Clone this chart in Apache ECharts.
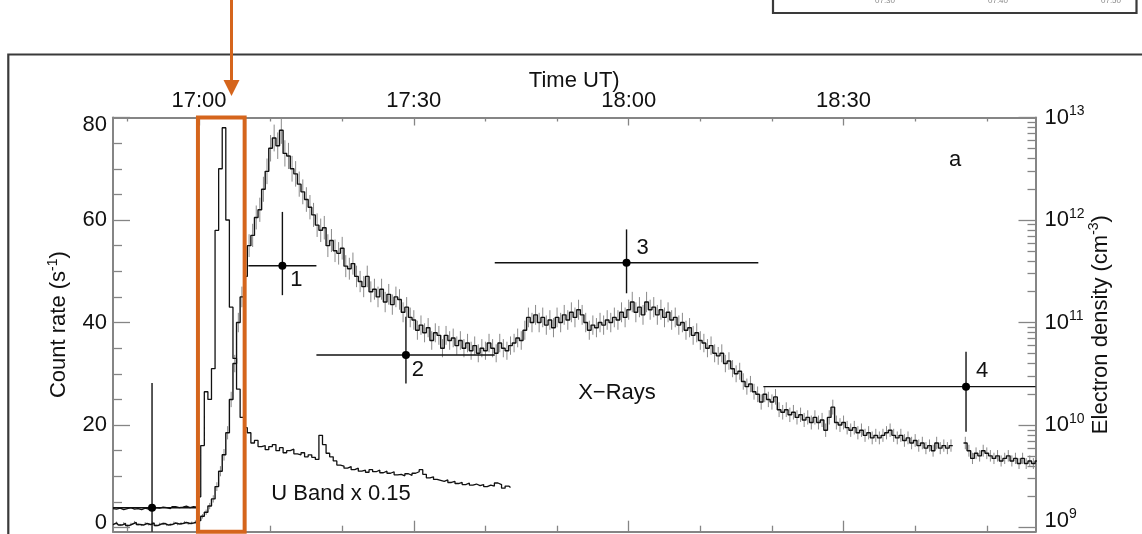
<!DOCTYPE html>
<html>
<head>
<meta charset="utf-8">
<script src="https://cdn.jsdelivr.net/npm/echarts@6/dist/echarts.min.js"></script>
<style>
  html, body { margin: 0; padding: 0; background: #fff; }
  #chart { width: 1142px; height: 534px; }
</style>
</head>
<body>
<div id="chart"></div>
<script>
// Flare light curves: X-ray count rate and U band (scaled by 0.15),
// plus electron densities on the right-hand log axis.
// Time is expressed in minutes after 17:00 UT.

// ---- axis ticks ----
const timeTicksMajor = [0, 30, 60, 90];
const timeTicksMinor = [-10, 10, 20, 40, 50, 70, 80, 100, 110];
const countTicksMajor = [0, 20, 40, 60, 80];
const countTicksMinor = [5, 10, 15, 25, 30, 35, 45, 50, 55, 65, 70, 75];
const densityTicksMajor = [1e9, 1e10, 1e11, 1e12, 1e13];
const densityTicksMinor = [
  2e9, 3e9, 4e9, 5e9, 6e9, 7e9, 8e9, 9e9,
  2e10, 3e10, 4e10, 5e10, 6e10, 7e10, 8e10, 9e10,
  2e11, 3e11, 4e11, 5e11, 6e11, 7e11, 8e11, 9e11,
  2e12, 3e12, 4e12, 5e12, 6e12, 7e12, 8e12, 9e12
];

// ---- X-ray count rate (s^-1), 30 s bins starting at 16:48 ----
const xrayStart = -12;
const sampleStep = 0.5;
const xrayRate = [
  0.6, 0.9, 0.5, 0.8, 0.4, 0.7, 1.0, 0.6, 0.5, 0.8, 0.6, 0.9, 0.4, 0.7, 0.8, 0.5, 0.6, 0.9, 0.7, 0.8, 1.0, 0.8, 0.9, 1.1,
  1.4, 2.2, 3.0, 4.2, 5.6, 8.0, 11.0, 14.2, 18.5, 25.0, 32.0, 40.0, 45.0, 49.0, 55.0, 57.0, 60.5, 62.0, 66.0, 69.5,
  74.0, 76.0, 74.5, 77.5, 73.0, 72.5, 70.0, 69.0, 67.0,
  65.5, 64, 62.5, 61, 59, 58, 58.5, 55, 56, 54, 53.5, 54.5, 51, 50.5, 51.5, 49, 48, 47, 49, 46, 46.5, 45, 46.5, 44,
  45.5, 43.5, 45, 44.5, 42, 43, 41, 40.5,
  38.5, 39.5, 38, 39, 36.5, 38, 37.5, 35, 37.5, 36.5, 37, 35.5, 36.5, 35, 36, 34.5, 35.5, 34, 35, 34.5, 36, 35, 34,
  36, 35, 34.5, 35.5, 36, 37, 36.5, 38.5, 41, 40, 41.5,
  40, 41, 39.5, 40.5, 39, 41, 40, 41.5, 40.5, 42, 41, 42.5, 41.5, 40, 38.5, 39.5, 39, 40, 39.5, 40.5, 40, 41, 40.5,
  42, 41, 42.5, 44, 42, 43, 41.5, 44, 42.5, 43, 41.5, 42.5, 41, 42, 40.5, 41, 39.5, 40, 38.5, 39, 37.5, 38, 36.5,
  36, 35, 35.5, 34, 33.5, 34, 32, 32.5, 31, 30, 30.5, 28.5, 27.5, 28, 26.5, 26, 24.5, 26, 25, 24.5, 25.5, 23, 22.5,
  23, 22, 22.5, 21.5, 22, 21, 21.5, 20.5, 21.5, 20.5, 21, 19, 21.5, 23.5, 20.5, 20, 20.5, 19.5, 19, 19.5, 18.5, 19,
  18, 18.5, 17.5, 18, 17.5, 18, 18.5, 19, 18, 17.5, 18, 17, 17.5, 16.5, 17, 16, 16.5, 15.5, 16, 15, 16.5, 15.5, 16,
  15.5, 16,
  null, null, null,
  16.5, 15, 13.5, 14.5, 14, 15, 14.5, 14, 13.5, 14, 13, 13.5, 14, 13, 13.5, 12.5, 13.5, 12.5, 13, 12.5, 13
];

// ---- U band count rate x 0.15, same binning ----
const uBandStart = -12;
const uBandRate = [
  3.7, 3.6, 3.8, 3.5, 3.7, 3.9, 3.6, 3.7, 3.5, 3.8, 3.6, 3.7, 3.9, 3.8, 4.0, 3.9, 3.7, 4.1, 3.9, 4.0, 4.2, 3.9, 4.1, 4.0,
  6.0, 16.0, 26.5, 25.0, 31.0, 58.0, 70.0, 78.0, 60.0, 43.0, 33.0, 27.0, 21.5, 19.5, 18.5,
  16.5, 17, 15.8, 16, 15.2, 15.8, 16.2, 15, 15.6, 14.6, 15, 15.3, 14.4, 14.2, 14.6, 13.8, 14.2, 13.7, 13.3, 18,
  16.2, 14.5, 13.8, 13, 12.2, 12, 11.6, 11.9, 11.3, 11.6, 11, 11.2, 10.8, 11.3, 10.9, 11.2, 10.7, 11, 10.6, 10.9,
  10.3, 10.4, 10.1, 10.5, 10.2, 10.6, 10.9, 11.3, 10.4, 9.7, 9.9, 9.4, 9.2, 9.0, 9.3, 8.8, 9.0, 8.6, 8.8, 8.4,
  8.7, 8.3, 8.5, 8.2, 8.4, 8.0, 8.3, 8.1, 8.7, 8.4, 7.7, 8.1, 7.8
];

// ---- electron density estimates (cm^-3) with time and density ranges ----
const densityTime     = [-6.55, 11.65, 28.9, 59.7, 107.1];
const densityTimeLow  = [-12.8, 6.9, 16.4, 41.3, 78.8];
const densityTimeHigh = [-0.3, 16.4, 41.3, 78.1, 135.2];
const density         = [1.56e9, 3.58e11, 4.82e10, 3.83e11, 2.37e10];
const densityLow      = [1e8, 1.85e11, 2.55e10, 1.93e11, 8.6e9];
const densityHigh     = [2.57e10, 1.2e12, 1.14e11, 8.1e11, 5.19e10];
const densityLabel    = ['', '1', '2', '3', '4'];

// highlighted impulsive phase (minutes after 17:00)
const flareWindow = [-0.14, 6.38];

// ---- layout / style ----
const FONT = "'Liberation Sans', Arial, Helvetica, sans-serif";
const TEXT = '#111';
const AXIS = '#858585';
const ORANGE = '#D5651C';
const X_MIN = -12, X_MAX = 116.8;
const COUNT_MIN = -0.8, COUNT_MAX = 80;
// 20 counts per decade: 0 counts <-> 1e9 cm^-3, 80 counts <-> 1e13 cm^-3
const DENSITY_MIN = Math.pow(10, 9 + COUNT_MIN / 20);
const DENSITY_MAX = 1e13;
const ERR_SCALE = 0.3; // counting-statistics error bar scale
const LABEL_OFFSET = { '1': [14, 14], '2': [12, 15], '3': [16, -15], '4': [16, -16] };

const xrayData = xrayRate.map((v, i) => [xrayStart + i * sampleStep, v]);
const uBandData = uBandRate.map((v, i) => [uBandStart + i * sampleStep, v]);
const densityData = density.map((n, i) => [
  densityTime[i], n, densityTimeLow[i], densityTimeHigh[i], densityLow[i], densityHigh[i]
]);

function clockLabel(v) {
  const total = 17 * 60 + v;
  const h = Math.floor(total / 60), m = total % 60;
  return h + ':' + String(m).padStart(2, '0');
}

function renderErrorBar(params, api) {
  const v = api.value(1);
  if (v == null || isNaN(v)) return null;
  const t = api.value(0);
  const e = ERR_SCALE * Math.sqrt(Math.max(v, 0));
  const p0 = api.coord([t, v - e]);
  const p1 = api.coord([t, v + e]);
  return {
    type: 'line',
    shape: { x1: p0[0], y1: p0[1], x2: p1[0], y2: p1[1] },
    style: { stroke: '#8a8a8a', lineWidth: 1 }
  };
}

function renderDensity(params, api) {
  const cs = params.coordSys;
  const rect = { x: cs.x, y: cs.y, width: cs.width, height: cs.height };
  const t = api.value(0), n = api.value(1);
  const t0 = api.value(2), t1 = api.value(3), n0 = api.value(4), n1 = api.value(5);
  const c = api.coord([t, n]);
  const h = echarts.graphic.clipPointsByRect([api.coord([t0, n]), api.coord([t1, n])], rect);
  const v = echarts.graphic.clipPointsByRect([api.coord([t, n0]), api.coord([t, n1])], rect);
  const children = [
    { type: 'line', shape: { x1: h[0][0], y1: h[0][1], x2: h[1][0], y2: h[1][1] },
      style: { stroke: '#111', lineWidth: 1.4 } },
    { type: 'line', shape: { x1: v[0][0], y1: v[0][1], x2: v[1][0], y2: v[1][1] },
      style: { stroke: '#111', lineWidth: 1.4 } },
    { type: 'circle', shape: { cx: c[0], cy: c[1], r: 4 }, style: { fill: '#000' } }
  ];
  const lbl = densityLabel[params.dataIndex];
  if (lbl) {
    const off = LABEL_OFFSET[lbl] || [14, 14];
    children.push({
      type: 'text', x: c[0] + off[0], y: c[1] + off[1],
      style: { text: lbl, fontSize: 22, fontFamily: FONT, fill: TEXT, align: 'center', verticalAlign: 'middle' }
    });
  }
  return { type: 'group', children };
}

const tickStyle = { color: AXIS, width: 1.3 };
const lineAxis = { onZero: false, lineStyle: { color: AXIS, width: 2 } };
const noAxisLine = { show: false, onZero: false };

const chart = echarts.init(document.getElementById('chart'), null, { renderer: 'canvas' });

const option = {
  animation: false,
  backgroundColor: '#fff',
  textStyle: { fontFamily: FONT },
  grid: [
    { left: 113, right: 106.5, top: 117.5, bottom: 2.3, containLabel: false, outerBoundsMode: 'none' },
    { left: 113, right: 106.5, top: 117.5, bottom: 2.3, containLabel: false, outerBoundsMode: 'none' }
  ],
  xAxis: [
    {
      gridIndex: 0, type: 'value', position: 'top', min: X_MIN, max: X_MAX,
      axisLine: lineAxis,
      axisTick: { inside: true, length: 8, customValues: timeTicksMajor, lineStyle: tickStyle },
      axisLabel: { customValues: timeTicksMajor, formatter: clockLabel, fontSize: 22, fontFamily: FONT, color: TEXT, margin: 6 },
      splitLine: { show: false },
      name: 'Time UT)', nameLocation: 'middle', nameGap: 26, nameMoveOverlap: false,
      nameTextStyle: { fontSize: 22, fontFamily: FONT, color: TEXT }
    },
    {
      gridIndex: 0, type: 'value', position: 'bottom', min: X_MIN, max: X_MAX,
      axisLine: lineAxis,
      axisTick: { inside: true, length: 11, customValues: timeTicksMajor, lineStyle: tickStyle },
      axisLabel: { show: false }, splitLine: { show: false }
    },
    {
      gridIndex: 1, type: 'value', position: 'top', min: X_MIN, max: X_MAX,
      axisLine: noAxisLine,
      axisTick: { inside: true, length: 4, customValues: timeTicksMinor, lineStyle: tickStyle },
      axisLabel: { show: false }, splitLine: { show: false }
    },
    {
      gridIndex: 1, type: 'value', position: 'bottom', min: X_MIN, max: X_MAX,
      axisLine: noAxisLine,
      axisTick: { inside: true, length: 6, customValues: timeTicksMinor, lineStyle: tickStyle },
      axisLabel: { show: false }, splitLine: { show: false }
    }
  ],
  yAxis: [
    {
      gridIndex: 0, type: 'value', position: 'left', min: COUNT_MIN, max: COUNT_MAX,
      axisLine: lineAxis,
      axisTick: { inside: true, length: 17, customValues: countTicksMajor, lineStyle: tickStyle },
      axisLabel: {
        customValues: countTicksMajor, margin: 6, fontSize: 22, fontFamily: FONT, color: TEXT,
        formatter: v => v === COUNT_MAX ? '{top|' + v + '}' : (v === 0 ? '{bot|' + v + '}' : '{n|' + v + '}'),
        rich: {
          n: { fontSize: 22, fontFamily: FONT, color: TEXT },
          top: { fontSize: 22, fontFamily: FONT, color: TEXT, padding: [14, 0, 0, 0] },
          bot: { fontSize: 22, fontFamily: FONT, color: TEXT, padding: [0, 0, 10, 0] }
        }
      },
      splitLine: { show: false },
      name: '{t|Count rate (s}{s|-1}{t|)}', nameLocation: 'middle', nameRotate: 90, nameGap: 41,
      nameMoveOverlap: false,
      nameTextStyle: {
        rich: {
          t: { fontSize: 22, fontFamily: FONT, color: TEXT, lineHeight: 26 },
          s: { fontSize: 14, fontFamily: FONT, color: TEXT, lineHeight: 14, verticalAlign: 'top' }
        }
      }
    },
    {
      gridIndex: 0, type: 'log', logBase: 10, position: 'right', min: DENSITY_MIN, max: DENSITY_MAX,
      axisLine: lineAxis,
      axisTick: { inside: true, length: 17, customValues: densityTicksMajor, lineStyle: tickStyle },
      axisLabel: {
        customValues: densityTicksMajor, margin: 9,
        formatter: v => {
          const e = Math.round(Math.log10(v));
          // the lowest label sits a little above its tick, kept inside the frame
          return e === 9 ? '{b|10}{s|' + e + '}\n{g| }' : '{b|10}{s|' + e + '}';
        },
        rich: {
          b: { fontSize: 22, fontFamily: FONT, color: TEXT, lineHeight: 26 },
          s: { fontSize: 14, fontFamily: FONT, color: TEXT, lineHeight: 14, verticalAlign: 'top' },
          g: { fontSize: 2, lineHeight: 14 }
        }
      },
      splitLine: { show: false },
      name: '{t|Electron density (cm}{s|-3}{t|)}', nameLocation: 'middle', nameRotate: 90, nameGap: 52,
      nameMoveOverlap: false,
      nameTextStyle: {
        rich: {
          t: { fontSize: 22, fontFamily: FONT, color: TEXT, lineHeight: 26 },
          s: { fontSize: 14, fontFamily: FONT, color: TEXT, lineHeight: 14, verticalAlign: 'top' }
        }
      }
    },
    {
      gridIndex: 1, type: 'value', position: 'left', min: COUNT_MIN, max: COUNT_MAX,
      axisLine: noAxisLine,
      axisTick: { inside: true, length: 9, customValues: countTicksMinor, lineStyle: tickStyle },
      axisLabel: { show: false }, splitLine: { show: false }
    },
    {
      gridIndex: 1, type: 'log', logBase: 10, position: 'right', min: DENSITY_MIN, max: DENSITY_MAX,
      axisLine: noAxisLine,
      axisTick: { inside: true, length: 8, customValues: densityTicksMinor, lineStyle: tickStyle },
      axisLabel: { show: false }, splitLine: { show: false }
    }
  ],
  series: [
    {
      name: 'X-ray errors', type: 'custom', xAxisIndex: 0, yAxisIndex: 0,
      data: xrayData, renderItem: renderErrorBar, clip: true, z: 2, silent: true
    },
    {
      name: 'X-Rays', type: 'line', xAxisIndex: 0, yAxisIndex: 0, data: xrayData,
      step: 'middle', symbol: 'none', connectNulls: false, clip: true, z: 3,
      lineStyle: { color: '#111', width: 1.4 }
    },
    {
      name: 'U Band x 0.15', type: 'line', xAxisIndex: 0, yAxisIndex: 0, data: uBandData,
      step: 'middle', symbol: 'none', clip: true, z: 3,
      lineStyle: { color: '#111', width: 1.3 }
    },
    {
      name: 'Electron density', type: 'custom', xAxisIndex: 0, yAxisIndex: 1,
      data: densityData, renderItem: renderDensity, z: 4, silent: true
    }
  ],
  graphic: [
    { id: 'frame', type: 'rect', silent: true, z: 0,
      shape: { x: 8.3, y: 54.5, width: 1160, height: 520 },
      style: { fill: 'none', stroke: '#3a3a3a', lineWidth: 2.2 } },
    { id: 'inset', type: 'rect', silent: true, z: 0,
      shape: { x: 773, y: -20, width: 363.5, height: 33 },
      style: { fill: 'none', stroke: '#3a3a3a', lineWidth: 2.2 } },
    { type: 'text', x: 885, y: 0.5, silent: true,
      style: { text: '07:30', fontSize: 8, fontFamily: FONT, fill: '#8a8a8a', align: 'center', verticalAlign: 'middle' } },
    { type: 'text', x: 998, y: 0.5, silent: true,
      style: { text: '07:40', fontSize: 8, fontFamily: FONT, fill: '#8a8a8a', align: 'center', verticalAlign: 'middle' } },
    { type: 'text', x: 1111, y: 0.5, silent: true,
      style: { text: '07:50', fontSize: 8, fontFamily: FONT, fill: '#8a8a8a', align: 'center', verticalAlign: 'middle' } },
    { type: 'text', x: 955, y: 160, silent: true, z: 10,
      style: { text: 'a', fontSize: 22, fontFamily: FONT, fill: TEXT, align: 'center', verticalAlign: 'middle' } },
    { type: 'text', x: 617, y: 393, silent: true, z: 10,
      style: { text: 'X\u2212Rays', fontSize: 22, fontFamily: FONT, fill: TEXT, align: 'center', verticalAlign: 'middle' } },
    { type: 'text', x: 341, y: 494, silent: true, z: 10,
      style: { text: 'U Band x 0.15', fontSize: 22, fontFamily: FONT, fill: TEXT, align: 'center', verticalAlign: 'middle' } },
    { id: 'arrowShaft', type: 'line', silent: true, z: 20,
      shape: { x1: 231.5, y1: 0, x2: 231.5, y2: 84 },
      style: { stroke: ORANGE, lineWidth: 3 } },
    { id: 'arrowHead', type: 'polygon', silent: true, z: 20,
      shape: { points: [[223.5, 80], [239.5, 80], [231.5, 96]] },
      style: { fill: ORANGE } }
  ]
};

chart.setOption(option);

// outline of the impulsive phase, placed through the axis scales
const bx0 = chart.convertToPixel({ xAxisIndex: 0 }, flareWindow[0]);
const bx1 = chart.convertToPixel({ xAxisIndex: 0 }, flareWindow[1]);
const by0 = chart.convertToPixel({ yAxisIndex: 0 }, COUNT_MAX);
const by1 = chart.convertToPixel({ yAxisIndex: 0 }, COUNT_MIN);
chart.setOption({
  graphic: [{
    id: 'flareBox', type: 'rect', silent: true, z: 20,
    shape: { x: bx0, y: by0, width: bx1 - bx0, height: by1 - by0 },
    style: { fill: 'none', stroke: ORANGE, lineWidth: 4 }
  }]
});
</script>
</body>
</html>
